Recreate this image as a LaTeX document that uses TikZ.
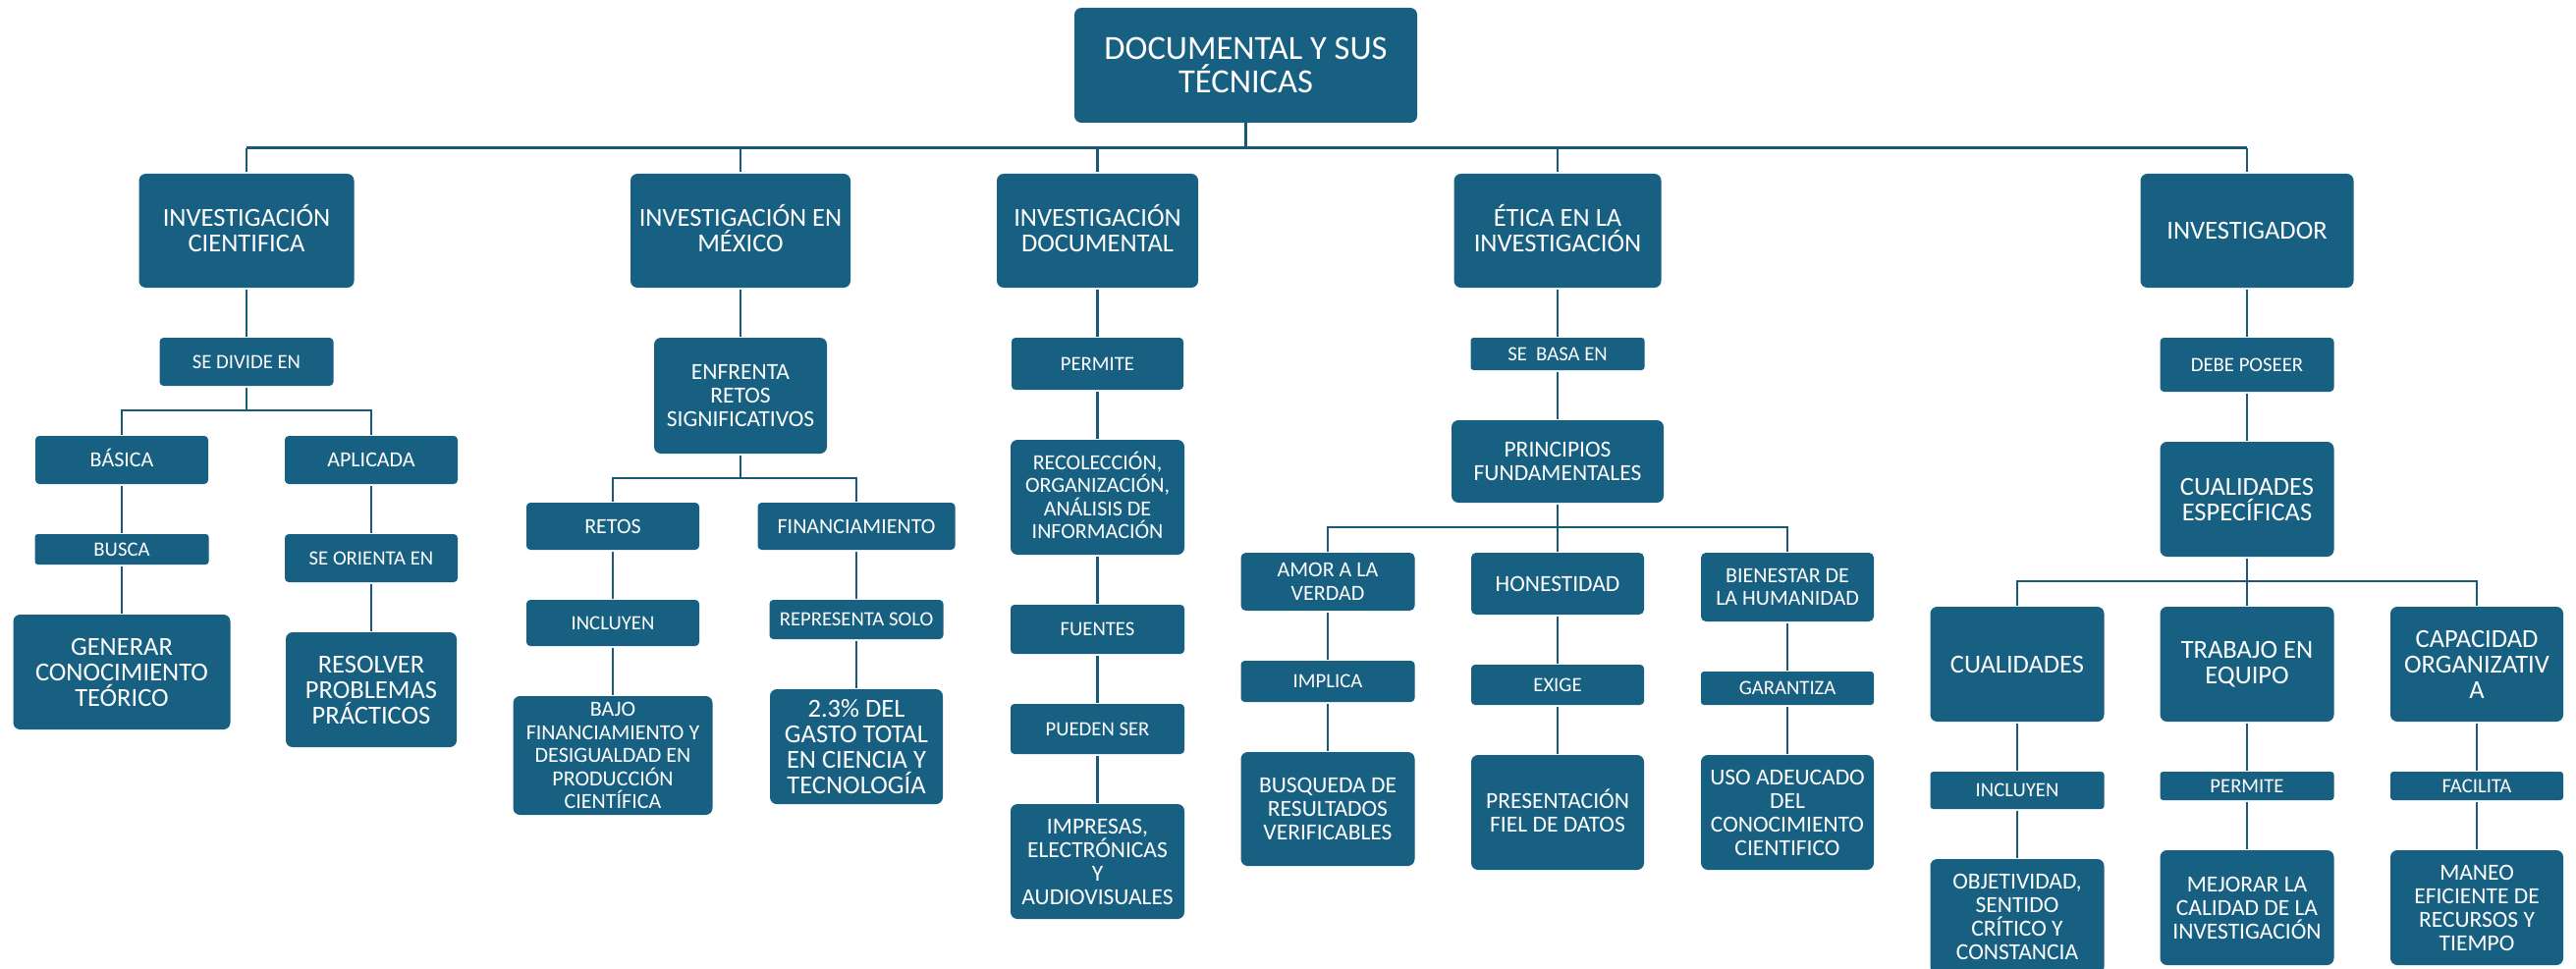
\documentclass[tikz,border=0pt]{standalone}
\usepackage{fontspec}
\setmainfont{Carlito}
\definecolor{boxc}{RGB}{24,96,130}
\definecolor{linec}{RGB}{26,88,120}
\newcommand\sm[1]{\smash{#1}}
\tikzset{
  box/.style={fill=boxc, draw=none, rounded corners=7pt, text=white, align=center, inner sep=0pt, outer sep=0pt},
  fXL/.style={font=\fontsize{34.5}{34}\selectfont},
  fL/.style={font=\fontsize{26.5}{26}\selectfont},
  fM/.style={font=\fontsize{23.5}{24}\selectfont},
  fS/.style={font=\fontsize{22}{23.5}\selectfont},
  fT/.style={font=\fontsize{20.7}{22}\selectfont},
  conn/.style={draw=linec, line width=2.2pt, shorten <=1.5pt, shorten >=1.5pt},
  branch/.style={draw=linec, line width=2.2pt, shorten <=1.5pt, shorten >=1.5pt},
  busline/.style={draw=linec, line width=3pt}
}
\begin{document}
\begin{tikzpicture}[x=1pt,y=-1pt]
\fill[white] (0,0) rectangle (2623,987);
\clip (0,0) rectangle (2623,987);

% root
\node[box,fXL,minimum width=349pt,minimum height=117pt] (root) at (1268.5,66.5) {DOCUMENTAL Y SUS\\TÉCNICAS};

% level 1
\node[box,fL,minimum width=219pt,minimum height=116pt] (ic) at (251,235) {INVESTIGACI\sm{Ó}N\\CIENTIFICA};
\node[box,fL,minimum width=224pt,minimum height=116pt] (im) at (754,235) {INVESTIGACI\sm{Ó}N EN\\MÉXICO};
\node[box,fL,minimum width=205pt,minimum height=116pt] (id) at (1117.5,235) {INVESTIGACI\sm{Ó}N\\DOCUMENTAL};
\node[box,fL,minimum width=211pt,minimum height=116pt] (et) at (1586,235) {\sm{É}TICA EN LA\\INVESTIGACIÓN};
\node[box,fL,minimum width=217pt,minimum height=116pt] (iv) at (2288,235) {INVESTIGADOR};

% column 1
\node[box,fT,minimum width=177pt,minimum height=49pt,rounded corners=4pt] (sd) at (251,368.5) {SE DIVIDE EN};
\node[box,fS,minimum width=176pt,minimum height=49pt,rounded corners=4pt] (ba) at (124,468.5) {B\sm{Á}SICA};
\node[box,fS,minimum width=176pt,minimum height=49pt,rounded corners=4pt] (ap) at (378,468.5) {APLICADA};
\node[box,fT,minimum width=177pt,minimum height=31pt,rounded corners=3pt] (bu) at (124,559.5) {BUSCA};
\node[box,fL,minimum width=221pt,minimum height=117pt] (ge) at (124,684.5) {GENERAR\\CONOCIMIENTO\\TEÓRICO};
\node[box,fT,minimum width=176pt,minimum height=49pt,rounded corners=4pt] (so) at (378,568.5) {SE ORIENTA EN};
\node[box,fL,minimum width=174pt,minimum height=117pt] (re) at (378,702.5) {RESOLVER\\PROBLEMAS\\PRÁCTICOS};

% column 2
\node[box,fM,minimum width=176pt,minimum height=118pt] (en) at (754,403) {ENFRENTA\\RETOS\\SIGNIFICATIVOS};
\node[box,fS,minimum width=176pt,minimum height=48pt,rounded corners=4pt] (rt) at (624,536) {RETOS};
\node[box,fS,minimum width=201pt,minimum height=48pt,rounded corners=4pt] (fi) at (872,536) {FINANCIAMIENTO};
\node[box,fT,minimum width=176pt,minimum height=47pt,rounded corners=4pt] (inc) at (624,634.5) {INCLUYEN};
\node[box,fT,minimum width=177pt,minimum height=40pt,rounded corners=4pt] (rs) at (872,631) {REPRESENTA SOLO};
\node[box,fS,minimum width=203pt,minimum height=121pt] (bj) at (624,769.5) {BAJO\\FINANCIAMIENTO Y\\DESIGUALDAD EN\\PRODUCCIÓN\\CIENTÍFICA};
\node[box,fL,minimum width=176pt,minimum height=117pt] (gt) at (872,760.5) {2.3\% DEL\\GASTO TOTAL\\EN CIENCIA Y\\TECNOLOGÍA};

% column 3
\node[box,fT,minimum width=175pt,minimum height=53pt,rounded corners=4pt] (pe) at (1117.5,370.5) {PERMITE};
\node[box,fS,minimum width=177pt,minimum height=117pt] (rc) at (1117.5,506.5) {RECOLECCI\sm{Ó}N,\\ORGANIZACIÓN,\\ANÁLISIS DE\\INFORMACIÓN};
\node[box,fT,minimum width=177pt,minimum height=50pt,rounded corners=4pt] (fu) at (1117.5,641) {FUENTES};
\node[box,fT,minimum width=177pt,minimum height=51pt,rounded corners=4pt] (ps) at (1117.5,742.5) {PUEDEN SER};
\node[box,fM,minimum width=177pt,minimum height=117pt] (ip) at (1117.5,877.5) {IMPRESAS,\\ELECTRÓNICAS\\Y\\AUDIOVISUALES};

% column 4
\node[box,fT,minimum width=177pt,minimum height=33pt,rounded corners=3pt] (sb) at (1586,360.5) {SE\ \ BASA EN};
\node[box,fM,minimum width=216pt,minimum height=84pt] (pf) at (1586,470) {PRINCIPIOS\\FUNDAMENTALES};
\node[box,fS,minimum width=177pt,minimum height=59pt,rounded corners=5pt] (av) at (1352,592.5) {AMOR A LA\\VERDAD};
\node[box,fM,minimum width=176pt,minimum height=63pt,rounded corners=5pt] (ho) at (1586,594.5) {HONESTIDAD};
\node[box,fS,minimum width=176pt,minimum height=70pt,rounded corners=5pt] (bh) at (1820,598) {BIENESTAR DE\\LA HUMANIDAD};
\node[box,fT,minimum width=177pt,minimum height=42pt,rounded corners=4pt] (iml) at (1352,694) {IMPLICA};
\node[box,fT,minimum width=176pt,minimum height=41pt,rounded corners=4pt] (ex) at (1586,697.5) {EXIGE};
\node[box,fT,minimum width=176pt,minimum height=34pt,rounded corners=3pt] (gz) at (1820,701) {GARANTIZA};
\node[box,fM,minimum width=177pt,minimum height=116pt] (bq) at (1352,824) {BUSQUEDA DE\\RESULTADOS\\VERIFICABLES};
\node[box,fM,minimum width=176pt,minimum height=117pt] (pr) at (1586,827.5) {PRESENTACI\sm{Ó}N\\FIEL DE DATOS};
\node[box,fM,minimum width=176pt,minimum height=117pt] (us) at (1820,827.5) {USO ADEUCADO\\DEL\\CONOCIMIENTO\\CIENTIFICO};

% column 5
\node[box,fT,minimum width=177pt,minimum height=55pt,rounded corners=4pt] (dp) at (2288,371.5) {DEBE POSEER};
\node[box,fL,minimum width=177pt,minimum height=117pt] (ce) at (2288,508.5) {CUALIDADES\\ESPECÍFICAS};
\node[box,fL,minimum width=177pt,minimum height=117pt] (cu) at (2054,676.5) {CUALIDADES};
\node[box,fL,minimum width=177pt,minimum height=117pt] (tr) at (2288,676.5) {TRABAJO EN\\EQUIPO};
\node[box,fL,minimum width=176pt,minimum height=117pt] (ca) at (2522,676.5) {CAPACIDAD\\ORGANIZATIV\\A};
\node[box,fT,minimum width=177pt,minimum height=38pt,rounded corners=3pt] (ic2) at (2054,805) {INCLUYEN};
\node[box,fT,minimum width=177pt,minimum height=29pt,rounded corners=3pt] (pm) at (2288,800.5) {PERMITE};
\node[box,fT,minimum width=176pt,minimum height=29pt,rounded corners=3pt] (fa) at (2522,800.5) {FACILITA};
\node[box,fM,minimum width=177pt,minimum height=117pt] (ob) at (2054,933.5) {OBJETIVIDAD,\\SENTIDO\\CRÍTICO Y\\CONSTANCIA};
\node[box,fM,minimum width=177pt,minimum height=117pt] (me) at (2288,924.5) {MEJORAR LA\\CALIDAD DE LA\\INVESTIGACIÓN};
\node[box,fM,minimum width=176pt,minimum height=117pt] (ma) at (2522,924.5) {MANEO\\EFICIENTE DE\\RECURSOS Y\\TIEMPO};

% bus coordinates
\coordinate (bus) at (1268.5,151);
\coordinate (b1) at (251,418);
\coordinate (b2) at (754,487);
\coordinate (b4) at (1586,537);
\coordinate (b5) at (2288,592);

% top level connectors
\draw[busline] (root.south) -- (bus);
\draw[busline] (ic.north |- bus) -- (iv.north |- bus);
\draw[branch, shorten <=0pt] (ic.north |- bus) -- (ic.north);
\draw[branch, shorten <=0pt] (im.north |- bus) -- (im.north);
\draw[branch, shorten <=0pt] (id.north |- bus) -- (id.north);
\draw[branch, shorten <=0pt] (et.north |- bus) -- (et.north);
\draw[branch, shorten <=0pt] (iv.north |- bus) -- (iv.north);

% column 1
\draw[conn] (ic) -- (sd);
\draw[conn, shorten >=0pt] (sd) -- (b1);
\draw[branch] (ba.north) -- (ba.north |- b1) -- (ap.north |- b1) -- (ap.north);
\draw[conn] (ba) -- (bu);
\draw[conn] (bu) -- (ge);
\draw[conn] (ap) -- (so);
\draw[conn] (so) -- (re);

% column 2
\draw[conn] (im) -- (en);
\draw[conn, shorten >=0pt] (en) -- (b2);
\draw[branch] (rt.north) -- (rt.north |- b2) -- (fi.north |- b2) -- (fi.north);
\draw[conn] (rt) -- (inc);
\draw[conn] (inc) -- (bj);
\draw[conn] (fi) -- (rs);
\draw[conn] (rs) -- (gt);

% column 3
\draw[conn] (id) -- (pe);
\draw[conn] (pe) -- (rc);
\draw[conn] (rc) -- (fu);
\draw[conn] (fu) -- (ps);
\draw[conn] (ps) -- (ip);

% column 4
\draw[conn] (et) -- (sb);
\draw[conn] (sb) -- (pf);
\draw[conn] (pf) -- (ho);
\draw[branch] (av.north) -- (av.north |- b4) -- (bh.north |- b4) -- (bh.north);
\draw[conn] (av) -- (iml);
\draw[conn] (iml) -- (bq);
\draw[conn] (ho) -- (ex);
\draw[conn] (ex) -- (pr);
\draw[conn] (bh) -- (gz);
\draw[conn] (gz) -- (us);

% column 5
\draw[conn] (iv) -- (dp);
\draw[conn] (dp) -- (ce);
\draw[conn] (ce) -- (tr);
\draw[branch] (cu.north) -- (cu.north |- b5) -- (ca.north |- b5) -- (ca.north);
\draw[conn] (cu) -- (ic2);
\draw[conn] (ic2) -- (ob);
\draw[conn] (tr) -- (pm);
\draw[conn] (pm) -- (me);
\draw[conn] (ca) -- (fa);
\draw[conn] (fa) -- (ma);
\end{tikzpicture}
\end{document}
